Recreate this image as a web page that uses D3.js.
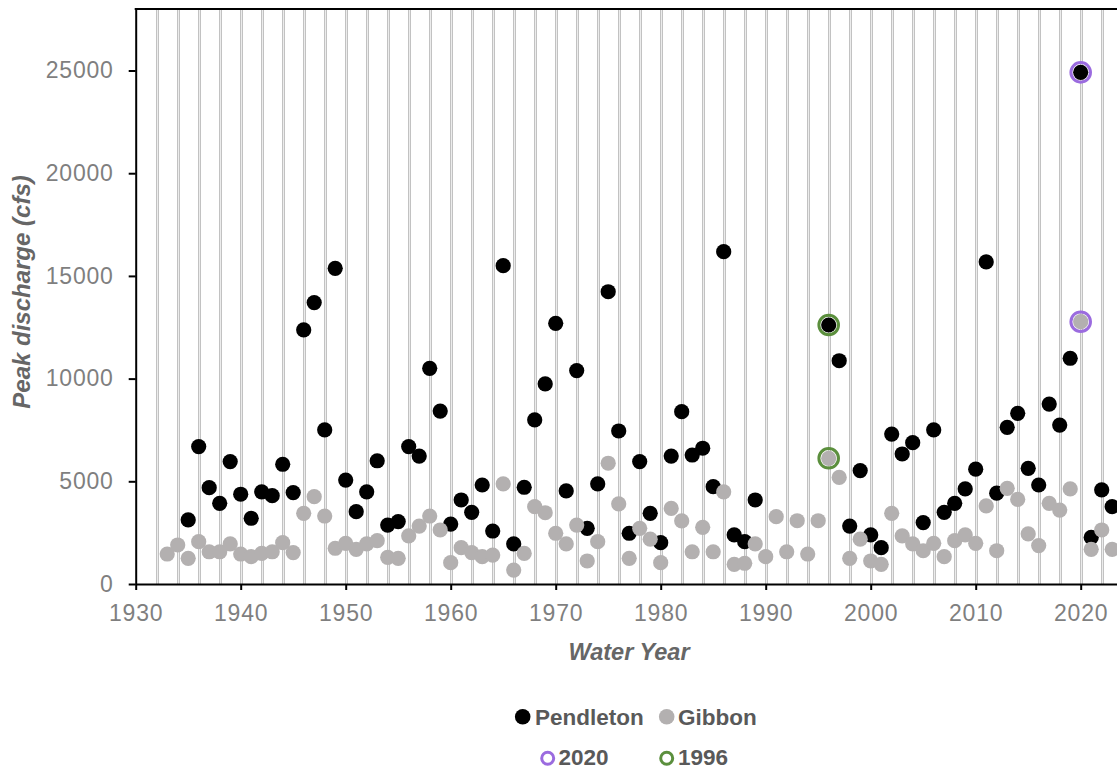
<!DOCTYPE html>
<html>
<head>
<meta charset="utf-8">
<script src="https://cdn.jsdelivr.net/npm/d3@7"></script>
<style>
  body { margin: 0; background: #fff; }
  svg { display: block; }
</style>
</head>
<body>
<div id="chart"></div>
<script>
// peak discharge per water year
var pendletonYears = d3.range(1935, 1990).concat(d3.range(1996, 2024));
var pendletonPeaks = [
    3120, 6690, 4690, 3930, 5960, 4370, 3200, 4490, 4300, 5830,
    4450, 12370, 13700, 7500, 15370, 5060, 3520, 4490, 6000, 2870,
    3040, 6690, 6230, 10500, 8420, 2920, 4090, 3490, 4820, 2580,
    15500, 1950, 4710, 7990, 9740, 12690, 4530, 10390, 2710, 4870,
    14230, 7450, 2470, 5960, 3440, 2010, 6230, 8390, 6280, 6610,
    4740, 16180, 2390, 2060, 4090,
    12610, 10870, 2820, 5520, 2390, 1770, 7300, 6330, 6880, 2990,
    7500, 3490, 3930, 4630, 5590, 15680, 4420, 7630, 8310, 5630,
    4820, 8760, 7740, 10990, 24910, 2270, 4580, 3770
];
var gibbonYears = d3.range(1933, 2024);
var gibbonPeaks = [
    1460, 1900, 1250, 2060, 1570, 1570, 1950, 1460, 1330, 1490,
    1570, 2010, 1530, 3440, 4250, 3310, 1740, 1980, 1690, 1950,
    2110, 1300, 1250, 2340, 2820, 3310, 2630, 1040, 1770, 1530,
    1330, 1410, 4870, 680, 1490, 3770, 3470, 2470, 1950, 2870,
    1120, 2060, 5880, 3900, 1250, 2710, 2180, 1040, 3680, 3070,
    1570, 2760, 1570, 4490, 960, 1010, 1950, 1330, 3280, 1570,
    3080, 1460, 3080, 6120, 5190, 1250, 2180, 1120, 960, 3440,
    2340, 1950, 1620, 1980, 1330, 2110, 2390, 1980, 3800, 1620,
    4660, 4120, 2440, 1870, 3930, 3600, 4630, 12770, 1690, 2630,
    1690
];
var highlightYears = [2020, 1996];
var highlightColors = ["#9b6bdf", "#5b8f3d"];
var yTicks = [0, 5000, 10000, 15000, 20000, 25000];
var xTicks = [1930, 1940, 1950, 1960, 1970, 1980, 1990, 2000, 2010, 2020];

var W = 1117, H = 769;
var svg = d3.select("#chart").append("svg")
    .attr("width", W)
    .attr("height", H);

var x = d3.scaleLinear().domain([1930, 2030]).range([135.7, 1185.7]);
var y = d3.scaleLinear().domain([0, 28000]).range([584, 8.9]);

// vertical gridlines every two years
var gridYears = d3.range(1932, 2030, 2);
var grid = svg.append("g");
grid.selectAll("line.g1")
    .data(gridYears)
    .enter().append("line")
    .attr("x1", function(d) { return Math.round(x(d)) + 0.5; })
    .attr("x2", function(d) { return Math.round(x(d)) + 0.5; })
    .attr("y1", y(28000))
    .attr("y2", y(0))
    .attr("stroke", "#c2c2c2")
    .attr("stroke-width", 3);
grid.selectAll("line.g2")
    .data(gridYears)
    .enter().append("line")
    .attr("x1", function(d) { return Math.round(x(d)) + 0.5; })
    .attr("x2", function(d) { return Math.round(x(d)) + 0.5; })
    .attr("y1", y(28000))
    .attr("y2", y(0))
    .attr("stroke", "#ececec")
    .attr("stroke-width", 1);

// top border
svg.append("line")
    .attr("x1", x(1930) - 1)
    .attr("x2", W)
    .attr("y1", y(28000))
    .attr("y2", y(28000))
    .attr("stroke", "#000")
    .attr("stroke-width", 2);

var tickFont = "'Liberation Sans', Arial, sans-serif";

var yAxis = svg.append("g")
    .attr("transform", "translate(" + x(1930) + ",0)")
    .call(d3.axisLeft(y).tickValues(yTicks).tickSize(7).tickSizeOuter(0).tickPadding(15)
        .tickFormat(d3.format("d")));
var xAxis = svg.append("g")
    .attr("transform", "translate(0," + y(0) + ")")
    .call(d3.axisBottom(x).tickValues(xTicks).tickSize(6).tickSizeOuter(0).tickPadding(15)
        .tickFormat(d3.format("d")));

[yAxis, xAxis].forEach(function(a) {
    a.select(".domain").attr("stroke", "#000").attr("stroke-width", 2);
    a.selectAll(".tick line").attr("stroke", "#000").attr("stroke-width", 2);
    a.selectAll(".tick text")
        .attr("fill", "#7f7f7f")
        .style("font-family", tickFont)
        .style("font-size", "23px")
        .style("letter-spacing", "0.8px");
});

// points
var pend = pendletonYears.map(function(yr, i) { return {year: yr, v: pendletonPeaks[i]}; });
var gib = gibbonYears.map(function(yr, i) { return {year: yr, v: gibbonPeaks[i]}; });

svg.append("g").selectAll("circle")
    .data(pend)
    .enter().append("circle")
    .attr("cx", function(d) { return x(d.year); })
    .attr("cy", function(d) { return y(d.v); })
    .attr("r", 7.6)
    .attr("fill", "#000");

svg.append("g").selectAll("circle")
    .data(gib)
    .enter().append("circle")
    .attr("cx", function(d) { return x(d.year); })
    .attr("cy", function(d) { return y(d.v); })
    .attr("r", 7.6)
    .attr("fill", "#b3b0b0");

// rings round the highlighted years, both stations
var rings = [];
highlightYears.forEach(function(yr, k) {
    pend.concat(gib).forEach(function(d) {
        if (d.year == yr) rings.push({year: yr, v: d.v, color: highlightColors[k]});
    });
});
svg.append("g").selectAll("circle")
    .data(rings)
    .enter().append("circle")
    .attr("cx", function(d) { return x(d.year); })
    .attr("cy", function(d) { return y(d.v); })
    .attr("r", 9.8)
    .attr("fill", "none")
    .attr("stroke", function(d) { return d.color; })
    .attr("stroke-width", 3);

// axis titles
var titleFont = "'Liberation Sans', Arial, sans-serif";
svg.append("text")
    .attr("transform", "translate(30,292) rotate(-90)")
    .attr("text-anchor", "middle")
    .attr("fill", "#666")
    .style("font-family", titleFont)
    .style("font-size", "24px")
    .style("font-weight", "bold")
    .style("font-style", "italic")
    .text("Peak discharge (cfs)");

svg.append("text")
    .attr("x", 629)
    .attr("y", 660)
    .attr("text-anchor", "middle")
    .attr("fill", "#666")
    .style("font-family", titleFont)
    .style("font-size", "23.5px")
    .style("font-weight", "bold")
    .style("font-style", "italic")
    .text("Water Year");

// legend
var legend = svg.append("g")
    .style("font-family", titleFont)
    .style("font-size", "22.5px")
    .style("font-weight", "bold")
    .attr("fill", "#595959");

var legendRow1 = [
    {label: "Pendleton", color: "#000", cx: 522.7, tx: 535},
    {label: "Gibbon", color: "#b3b0b0", cx: 666.7, tx: 678}
];
legendRow1.forEach(function(d) {
    legend.append("circle").attr("cx", d.cx).attr("cy", 716.7).attr("r", 7.8).attr("fill", d.color);
    legend.append("text").attr("x", d.tx).attr("y", 725).text(d.label);
});

var legendRow2 = highlightYears.map(function(yr, k) {
    return {label: String(yr), color: highlightColors[k], cx: k == 0 ? 547.7 : 666.7, tx: k == 0 ? 558.5 : 678};
});
legendRow2.forEach(function(d) {
    legend.append("circle").attr("cx", d.cx).attr("cy", 758.3).attr("r", 6)
        .attr("fill", "none").attr("stroke", d.color).attr("stroke-width", 3);
    legend.append("text").attr("x", d.tx).attr("y", 765).text(d.label);
});
</script>
</body>
</html>
